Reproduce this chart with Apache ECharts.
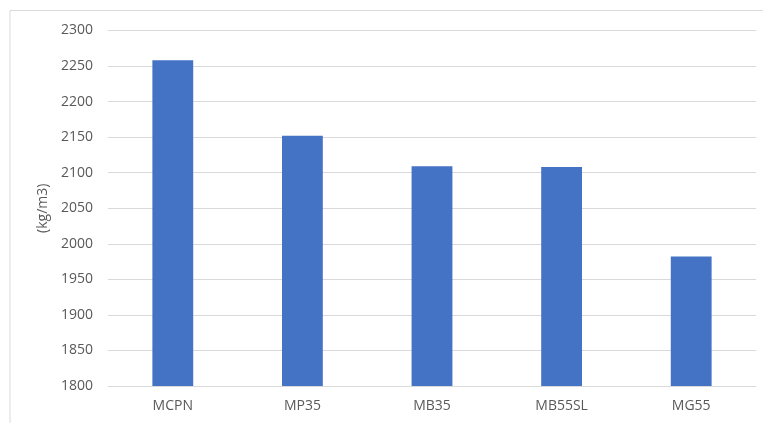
<!DOCTYPE html>
<html>
<head>
<meta charset="utf-8">
<script src="https://cdn.jsdelivr.net/npm/echarts@6/dist/echarts.min.js"></script>
<style>
  html, body { margin: 0; padding: 0; background: #ffffff; }
  #chart { width: 763px; height: 423px; }
</style>
</head>
<body>
<div id="chart"></div>
<script>
// Mix designations and their measured densities
const categories = ['MCPN', 'MP35', 'MB35', 'MB55SL', 'MG55'];
const density = [2258, 2152, 2109, 2108, 1982];
const yAxisTitle = '(kg/m3)';

const chart = echarts.init(document.getElementById('chart'));
const textColor = '#595959';
const gridColor = '#d9d9d9';
const fontFamily = '"Open Sans", "Noto Sans", sans-serif';

chart.setOption({
  animation: false,
  graphic: [{
    type: 'rect',
    shape: { x: 10, y: 10.5, width: 800, height: 450 },
    style: { fill: 'none', stroke: gridColor, lineWidth: 1 },
    silent: true
  }],
  grid: { left: 108, right: 7, top: 30.5, bottom: 37 },
  xAxis: {
    type: 'category',
    data: categories,
    axisLine: { show: true, lineStyle: { color: gridColor, width: 1 } },
    axisTick: { show: false },
    axisLabel: { color: textColor, fontSize: 14, fontFamily, margin: 13 }
  },
  yAxis: {
    type: 'value',
    min: 1800,
    max: 2300,
    interval: 50,
    name: yAxisTitle,
    nameLocation: 'middle',
    nameGap: 56,
    nameTextStyle: { color: textColor, fontSize: 14, fontFamily },
    axisLine: { show: false },
    axisTick: { show: false },
    axisLabel: {
      color: textColor, fontSize: 14, fontFamily, margin: 15,
      formatter: (v) => String(v)
    },
    splitLine: { lineStyle: { color: gridColor, width: 1 } }
  },
  series: [{
    type: 'bar',
    data: density,
    barWidth: '31.5%',
    itemStyle: { color: '#4472c4' }
  }]
});
</script>
</body>
</html>
